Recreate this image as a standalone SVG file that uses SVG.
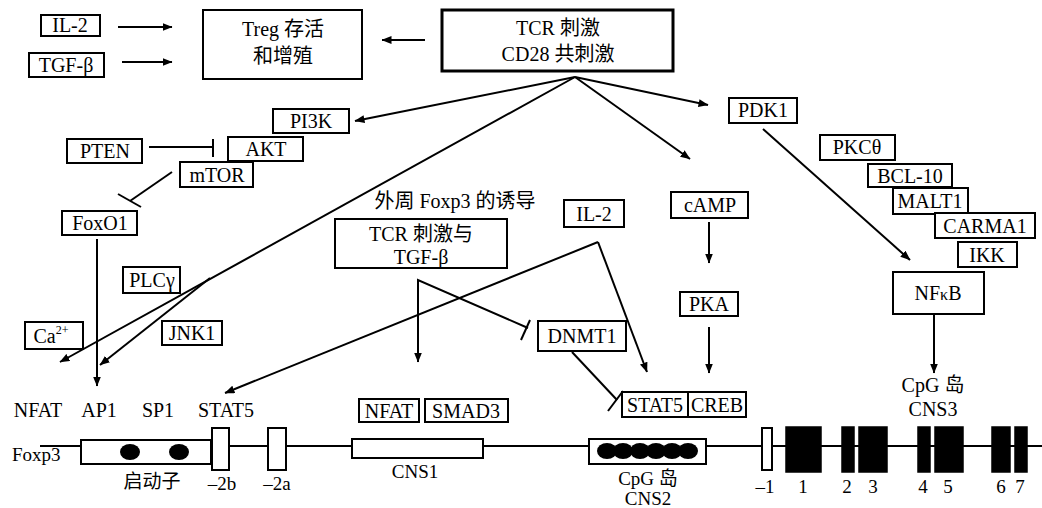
<svg xmlns="http://www.w3.org/2000/svg" width="1042" height="508" viewBox="0 0 1042 508">
  <defs>
    <marker id="arrow" markerUnits="userSpaceOnUse" markerWidth="10" markerHeight="8" refX="9.5" refY="4" orient="auto">
      <path d="M0,0 L10,4 L0,8 Z" fill="#000"/>
    </marker>
    <style>
      text { font-family: "Liberation Serif", "Times New Roman", "DejaVu Serif", "Noto Sans CJK SC", serif; font-size: 20px; fill: #000; text-anchor: middle; }
      .box { fill: #fff; stroke: #000; stroke-width: 2; }
      .thick { fill: #fff; stroke: #000; stroke-width: 3; }
      .ln { fill: none; stroke: #000; stroke-width: 2; }
      .arr { fill: none; stroke: #000; stroke-width: 2; marker-end: url(#arrow); }
      .exon { fill: #000; stroke: #000; stroke-width: 1.5; }
      .lbl { font-size: 19px; }
      .start { text-anchor: start; }
    </style>
  </defs>

  <!-- connectors -->
  <g id="connectors">
    <line class="arr" x1="118" y1="27" x2="172" y2="27"/>
    <line class="arr" x1="122" y1="62" x2="172" y2="62"/>
    <line class="arr" x1="425" y1="40" x2="382" y2="40"/>
    <!-- fan from TCR / CD28 -->
    <line class="arr" x1="575" y1="77" x2="355" y2="121"/>
    <line class="arr" x1="575" y1="77" x2="60" y2="362"/>
    <line class="arr" x1="210" y1="278" x2="100" y2="365"/>
    <line class="arr" x1="575" y1="77" x2="690" y2="159"/>
    <line class="arr" x1="575" y1="77" x2="708" y2="105"/>
    <!-- PTEN ⊣ AKT -->
    <line class="ln" x1="149" y1="147" x2="213" y2="147"/>
    <line class="ln" x1="213" y1="139" x2="213" y2="157"/>
    <!-- mTOR ⊣ FoxO1 -->
    <line class="ln" x1="172" y1="172" x2="130" y2="201"/>
    <line class="ln" x1="118" y1="194" x2="141" y2="207"/>
    <!-- FoxO1 → AP1 -->
    <line class="arr" x1="97" y1="239" x2="97" y2="386"/>
    <!-- IL-2 branches -->
    <line class="arr" x1="598" y1="242" x2="225" y2="393"/>
    <line class="arr" x1="598" y1="242" x2="647" y2="372"/>
    <!-- TCR + TGF-β -->
    <polyline class="ln" points="418,362 418,280 528,328"/>
    <line class="arr" x1="418" y1="330" x2="418" y2="362"/>
    <line class="ln" x1="521" y1="340" x2="530" y2="320"/>
    <!-- DNMT1 ⊣ STAT5 -->
    <line class="ln" x1="572" y1="352" x2="617" y2="400"/>
    <line class="ln" x1="608" y1="411" x2="623" y2="391"/>
    <!-- cAMP / PKA -->
    <line class="arr" x1="709" y1="222" x2="709" y2="263"/>
    <line class="arr" x1="709" y1="327" x2="709" y2="373"/>
    <!-- PDK1 → NFκB -->
    <line class="arr" x1="763" y1="129" x2="910" y2="260"/>
    <line class="arr" x1="934" y1="314" x2="934" y2="373"/>
  </g>

  <g id="il2-top"><rect class="box" x="41" y="15" width="59" height="21"/><text x="70" y="32">IL-2</text></g>
  <g id="tgfb-top"><rect class="box" x="29" y="53" width="75" height="24"/><text x="66" y="72">TGF-β</text></g>
  <g id="treg"><rect class="box" x="203" y="10" width="159" height="69"/><text x="283" y="36">Treg 存活</text><text x="283" y="63">和增殖</text></g>
  <g id="tcr"><rect class="thick" x="442" y="10" width="231" height="61"/><text x="558" y="35">TCR 刺激</text><text x="558" y="61">CD28 共刺激</text></g>

  <g id="pi3k"><rect class="box" x="273" y="109" width="76" height="24"/><text x="311" y="128">PI3K</text></g>
  <g id="akt"><rect class="box" x="228" y="137" width="75" height="24"/><text x="266" y="156">AKT</text></g>
  <g id="mtor"><rect class="box" x="180" y="162" width="73" height="25"/><text x="217" y="182">mTOR</text></g>
  <g id="pten"><rect class="box" x="67" y="139" width="75" height="24"/><text x="105" y="158">PTEN</text></g>
  <g id="foxo1"><rect class="box" x="62" y="211" width="75" height="24"/><text x="100" y="230">FoxO1</text></g>
  <g id="plcg"><rect class="box" x="123" y="267" width="57" height="26"/><text x="152" y="287">PLCγ</text></g>
  <g id="ca"><rect class="box" x="25" y="322" width="58" height="27"/><text x="51" y="343">Ca<tspan font-size="12" dy="-9">2+</tspan></text></g>
  <g id="jnk1"><rect class="box" x="162" y="321" width="60" height="24"/><text x="192" y="340">JNK1</text></g>

  <g id="induction">
    <text x="455" y="208">外周 Foxp3 的诱导</text>
    <rect class="box" x="335" y="219" width="172" height="49"/>
    <text x="421" y="241">TCR 刺激与</text>
    <text x="421" y="264">TGF-β</text>
  </g>
  <g id="il2-mid"><rect class="box" x="564" y="200" width="60" height="27"/><text x="594" y="221">IL-2</text></g>
  <g id="camp"><rect class="box" x="671" y="192" width="77" height="26"/><text x="710" y="212">cAMP</text></g>
  <g id="pka"><rect class="box" x="680" y="292" width="58" height="24"/><text x="709" y="311">PKA</text></g>
  <g id="dnmt1"><rect class="box" x="538" y="321" width="88" height="30"/><text x="582" y="343">DNMT1</text></g>
  <g id="stat5-box"><rect class="box" x="622" y="392" width="66" height="25"/><text x="655" y="412">STAT5</text></g>
  <g id="creb"><rect class="box" x="688" y="392" width="58" height="25"/><text x="717" y="412">CREB</text></g>

  <g id="pdk1"><rect class="box" x="729" y="98" width="68" height="25"/><text x="763" y="117">PDK1</text></g>
  <g id="pkc"><rect class="box" x="820" y="135" width="75" height="25"/><text x="857" y="154">PKCθ</text></g>
  <g id="bcl10"><rect class="box" x="868" y="164" width="84" height="23"/><text x="910" y="183">BCL-10</text></g>
  <g id="malt1"><rect class="box" x="893" y="188" width="75" height="26"/><text x="930" y="208">MALT1</text></g>
  <g id="carma1"><rect class="box" x="935" y="213" width="100" height="25"/><text x="985" y="233">CARMA1</text></g>
  <g id="ikk"><rect class="box" x="958" y="242" width="59" height="25"/><text x="987" y="262">IKK</text></g>
  <g id="nfkb"><rect class="box" x="893" y="272" width="91" height="42"/><text x="938" y="300">NF<tspan font-size="16">κ</tspan>B</text></g>

  <g id="nfat-mid"><rect class="box" x="359" y="399" width="60" height="23"/><text x="389" y="418">NFAT</text></g>
  <g id="smad3"><rect class="box" x="425" y="399" width="83" height="23"/><text x="466" y="418">SMAD3</text></g>

  <!-- promoter binding sites -->
  <g id="sites">
    <text x="38" y="417">NFAT</text>
    <text x="99" y="417">AP1</text>
    <text x="158" y="417">SP1</text>
    <text x="226" y="417">STAT5</text>
    <text x="933" y="392">CpG 岛</text>
    <text x="933" y="416">CNS3</text>
  </g>

  <!-- Foxp3 locus -->
  <g id="locus">
    <line class="ln" x1="40" y1="446" x2="1042" y2="446"/>
    <text class="lbl start" x="12" y="461">Foxp3</text>
    <rect class="box" x="81" y="440" width="130" height="24"/>
    <ellipse cx="130" cy="452" rx="10" ry="8"/>
    <ellipse cx="179" cy="452" rx="10" ry="8"/>
    <rect class="box" x="212" y="428" width="17" height="42"/>
    <rect class="box" x="268" y="428" width="18" height="42"/>
    <rect class="box" x="352" y="439" width="131" height="19"/>
    <rect class="box" x="589" y="439" width="117" height="25"/>
    <g fill="#000">
      <ellipse cx="607" cy="451" rx="10" ry="8"/>
      <ellipse cx="623" cy="451" rx="10" ry="8"/>
      <ellipse cx="640" cy="451" rx="10" ry="8"/>
      <ellipse cx="656" cy="451" rx="10" ry="8"/>
      <ellipse cx="672" cy="451" rx="10" ry="8"/>
      <ellipse cx="688" cy="451" rx="10" ry="8"/>
    </g>
    <rect class="box" x="762" y="428" width="10" height="42"/>
    <rect class="exon" x="786" y="427" width="35" height="45"/>
    <rect class="exon" x="842" y="427" width="12" height="45"/>
    <rect class="exon" x="859" y="427" width="28" height="45"/>
    <rect class="exon" x="918" y="427" width="12" height="45"/>
    <rect class="exon" x="935" y="427" width="28" height="45"/>
    <rect class="exon" x="992" y="427" width="18" height="45"/>
    <rect class="exon" x="1015" y="427" width="12" height="45"/>
    <text class="lbl" x="152" y="488">启动子</text>
    <text class="lbl" x="222" y="490">–2b</text>
    <text class="lbl" x="277" y="490">–2a</text>
    <text class="lbl" x="415" y="478">CNS1</text>
    <text class="lbl" x="648" y="485">CpG 岛</text>
    <text class="lbl" x="648" y="505">CNS2</text>
    <text class="lbl" x="765" y="493">–1</text>
    <text class="lbl" x="803" y="493">1</text>
    <text class="lbl" x="847" y="493">2</text>
    <text class="lbl" x="873" y="493">3</text>
    <text class="lbl" x="923" y="493">4</text>
    <text class="lbl" x="948" y="493">5</text>
    <text class="lbl" x="1001" y="493">6</text>
    <text class="lbl" x="1020" y="493">7</text>
  </g>
</svg>
